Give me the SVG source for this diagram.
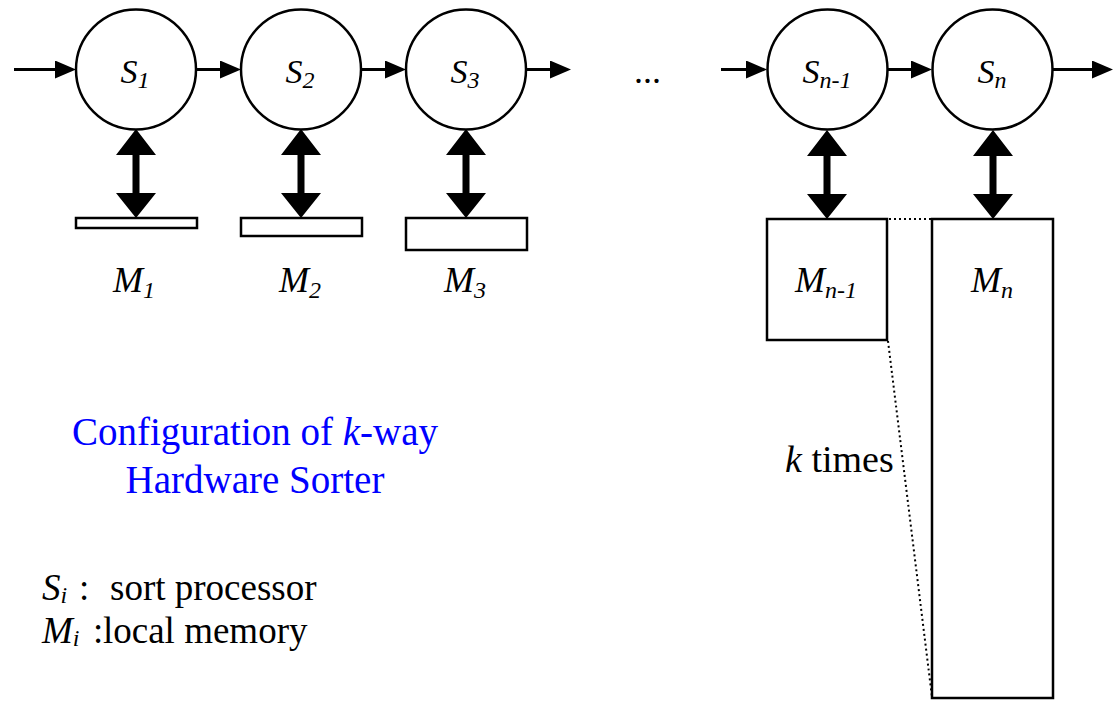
<svg xmlns="http://www.w3.org/2000/svg" width="1118" height="701" viewBox="0 0 1118 701">
  <style>
    .proc { fill: #fff; stroke: #000; stroke-width: 2.5; }
    .mem { fill: #fff; stroke: #000; stroke-width: 2.5; }
    .flow { stroke: #000; stroke-width: 3; fill: none; marker-end: url(#head); }
    .dots { stroke: #000; stroke-width: 2; fill: none; stroke-dasharray: 2 3; }
    .bus { fill: #000; }
    text { font-family: 'Liberation Serif', 'DejaVu Serif', serif; fill: #000; }
    .lbl { font-size: 34px; font-style: italic; text-anchor: middle; }
    .mlbl { font-size: 36px; font-style: italic; text-anchor: middle; }
    .sub { font-size: 24px; }
    .title { font-size: 39px; fill: #0000ff; text-anchor: middle; }
    .legend { font-size: 37px; }
  </style>
  <defs>
    <marker id="head" viewBox="0 0 21 18" refX="11" refY="9" markerWidth="21" markerHeight="18" markerUnits="userSpaceOnUse" orient="auto">
      <path d="M0,0 L21,9 L0,18 Z" fill="#000"/>
    </marker>
    <!-- double-headed memory bus, drawn with its top tip at the origin -->
    <path id="dbl" d="M0,0 L20,26 L3.5,26 L3.5,64 L20,64 L0,89 L-20,64 L-3.5,64 L-3.5,26 L-20,26 Z"/>
  </defs>

  <g id="connectors">
    <line class="flow" x1="14" y1="69.5" x2="66" y2="69.5"/>
    <line class="flow" x1="197" y1="69.5" x2="231" y2="69.5"/>
    <line class="flow" x1="362" y1="69.5" x2="396" y2="69.5"/>
    <line class="flow" x1="527" y1="69.5" x2="561" y2="69.5"/>
    <line class="flow" x1="721" y1="69.5" x2="757" y2="69.5"/>
    <line class="flow" x1="888" y1="69.5" x2="922" y2="69.5"/>
    <line class="flow" x1="1053" y1="69.5" x2="1103" y2="69.5"/>
    <use href="#dbl" class="bus" x="136" y="129"/>
    <use href="#dbl" class="bus" x="301" y="129"/>
    <use href="#dbl" class="bus" x="466" y="129"/>
    <use href="#dbl" class="bus" x="827" y="130"/>
    <use href="#dbl" class="bus" x="993" y="130"/>
    <line class="dots" x1="889" y1="219" x2="931" y2="219"/>
    <line class="dots" x1="888" y1="341" x2="932" y2="697"/>
  </g>

  <g id="S1">
    <circle class="proc" cx="136" cy="69.5" r="60"/>
    <text class="lbl" x="135" y="83">S<tspan class="sub" dy="5">1</tspan></text>
  </g>
  <g id="S2">
    <circle class="proc" cx="301" cy="69.5" r="60"/>
    <text class="lbl" x="300" y="83">S<tspan class="sub" dy="5">2</tspan></text>
  </g>
  <g id="S3">
    <circle class="proc" cx="466" cy="69.5" r="60"/>
    <text class="lbl" x="465" y="83">S<tspan class="sub" dy="5">3</tspan></text>
  </g>
  <g id="ellipsis">
    <text x="634" y="83" font-size="36">...</text>
  </g>
  <g id="Sn-1">
    <circle class="proc" cx="827.5" cy="69.5" r="60"/>
    <text class="lbl" x="827" y="83">S<tspan class="sub" dy="5">n-1</tspan></text>
  </g>
  <g id="Sn">
    <circle class="proc" cx="992.5" cy="69.5" r="60"/>
    <text class="lbl" x="992" y="83">S<tspan class="sub" dy="5">n</tspan></text>
  </g>

  <g id="M1">
    <rect class="mem" x="76" y="218" width="121" height="10"/>
    <text class="mlbl" x="134" y="292">M<tspan class="sub" dy="6">1</tspan></text>
  </g>
  <g id="M2">
    <rect class="mem" x="241" y="218" width="121" height="18"/>
    <text class="mlbl" x="300" y="292">M<tspan class="sub" dy="6">2</tspan></text>
  </g>
  <g id="M3">
    <rect class="mem" x="406" y="218" width="121" height="32"/>
    <text class="mlbl" x="465" y="292">M<tspan class="sub" dy="6">3</tspan></text>
  </g>
  <g id="Mn-1">
    <rect class="mem" x="767" y="219" width="120" height="121"/>
    <text class="mlbl" x="826" y="292">M<tspan class="sub" dy="6">n-1</tspan></text>
  </g>
  <g id="Mn">
    <rect class="mem" x="932" y="219" width="121" height="479"/>
    <text class="mlbl" x="992" y="292">M<tspan class="sub" dy="6">n</tspan></text>
  </g>

  <g id="ktimes">
    <text x="785" y="472" font-size="38"><tspan font-style="italic">k</tspan> times</text>
  </g>

  <g id="title">
    <text class="title" x="255" y="445">Configuration of <tspan font-style="italic">k</tspan>-way</text>
    <text class="title" x="255" y="493">Hardware Sorter</text>
  </g>

  <g id="legend">
    <text class="legend" x="42" y="600"><tspan font-style="italic">S</tspan><tspan class="sub" font-style="italic" dy="3">i</tspan></text>
    <text class="legend" x="79" y="600">:</text>
    <text class="legend" x="110" y="600">sort processor</text>
    <text class="legend" x="42" y="643"><tspan font-style="italic">M</tspan><tspan class="sub" font-style="italic" dy="3">i</tspan></text>
    <text class="legend" x="93" y="643">:</text>
    <text class="legend" x="103" y="643">local memory</text>
  </g>
</svg>
